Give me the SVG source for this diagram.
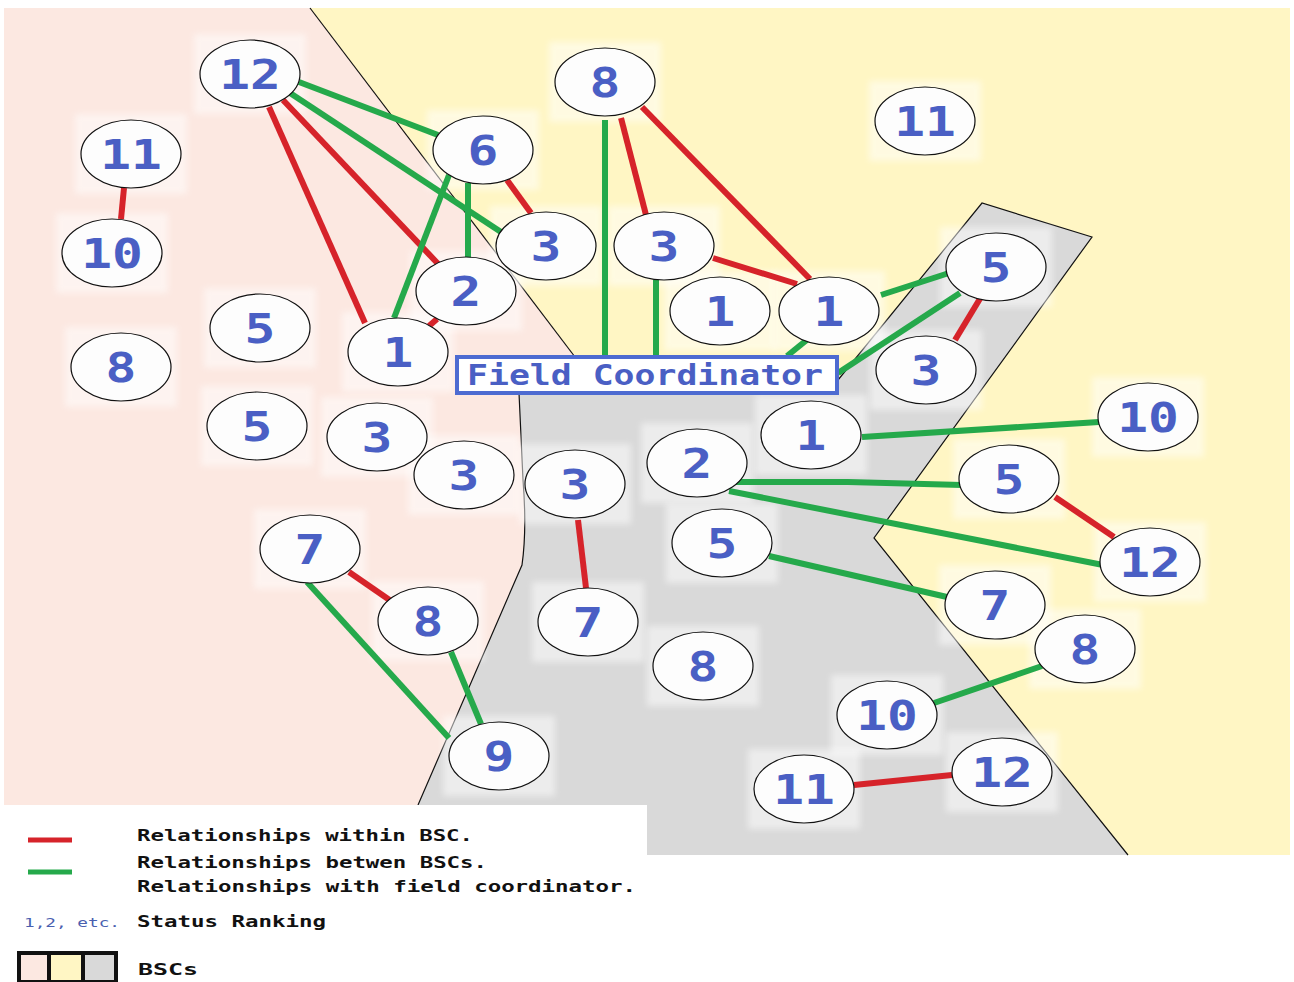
<svg xmlns="http://www.w3.org/2000/svg" width="1294" height="982" viewBox="0 0 1294 982">
  <style>
    .bd { fill: none; stroke: #111; stroke-width: 1.2; }
    .r { stroke: #d6232a; stroke-width: 6; fill: none; }
    .g { stroke: #25a94b; stroke-width: 6; fill: none; }
    .halo rect { fill: #ffffff; opacity: 0.5; filter: url(#soft); }
    .node ellipse { fill: #fdfdfd; stroke: #111; stroke-width: 1.2; }
    .node text { font-family: "DejaVu Sans Mono", "Liberation Mono", monospace; font-weight: bold; font-size: 40px; fill: #4a5fc4; text-anchor: middle; }
    .leg { font-family: "DejaVu Sans Mono", "Liberation Mono", monospace; font-weight: bold; font-size: 16px; fill: #111; }
  </style>
  <defs>
    <filter id="soft" x="-20%" y="-20%" width="140%" height="140%">
      <feGaussianBlur stdDeviation="3"/>
    </filter>
  </defs>

  <rect width="1294" height="982" fill="#ffffff"/>

  <!-- BSC areas -->
  <g id="areas">
    <rect x="4" y="8" width="1286" height="847" fill="#fff6c4"/>
    <path d="M4,8 L310,8 L575,357 L519,357 L519,393 L523,480 Q527,530 522,565 L418,805 L4,805 Z" fill="#fce8e1"/>
    <path d="M519,395 L838,395 L838,380 L982,203 L1092,237 L874,538 L1128,855 L647,855 L647,805 L418,805 L522,565 Q527,530 523,480 Z" fill="#d9d9d9"/>
    <path class="bd" d="M310,8 L575,357"/>
    <path class="bd" d="M519,393 L523,480 Q527,530 522,565 L418,805"/>
    <path class="bd" d="M838,380 L982,203 L1092,237 L874,538 L1128,855"/>
  </g>

  <!-- light patches behind the actors -->
  <g class="halo">
    <rect x="194" y="34" width="112" height="80"/>
    <rect x="75" y="114" width="112" height="80"/>
    <rect x="56" y="213" width="112" height="80"/>
    <rect x="204" y="288" width="112" height="80"/>
    <rect x="65" y="327" width="112" height="80"/>
    <rect x="342" y="312" width="112" height="80"/>
    <rect x="410" y="251" width="112" height="80"/>
    <rect x="427" y="110" width="112" height="80"/>
    <rect x="490" y="206" width="112" height="80"/>
    <rect x="201" y="386" width="112" height="80"/>
    <rect x="321" y="397" width="112" height="80"/>
    <rect x="408" y="435" width="112" height="80"/>
    <rect x="254" y="509" width="112" height="80"/>
    <rect x="372" y="581" width="112" height="80"/>
    <rect x="443" y="716" width="112" height="80"/>
    <rect x="549" y="42" width="112" height="80"/>
    <rect x="608" y="206" width="112" height="80"/>
    <rect x="664" y="271" width="112" height="80"/>
    <rect x="773" y="271" width="112" height="80"/>
    <rect x="869" y="81" width="112" height="80"/>
    <rect x="940" y="227" width="112" height="80"/>
    <rect x="870" y="330" width="112" height="80"/>
    <rect x="519" y="444" width="112" height="80"/>
    <rect x="532" y="582" width="112" height="80"/>
    <rect x="641" y="423" width="112" height="80"/>
    <rect x="755" y="395" width="112" height="80"/>
    <rect x="666" y="503" width="112" height="80"/>
    <rect x="647" y="626" width="112" height="80"/>
    <rect x="831" y="675" width="112" height="80"/>
    <rect x="748" y="749" width="112" height="80"/>
    <rect x="946" y="732" width="112" height="80"/>
    <rect x="1092" y="377" width="112" height="80"/>
    <rect x="953" y="439" width="112" height="80"/>
    <rect x="1094" y="522" width="112" height="80"/>
    <rect x="939" y="565" width="112" height="80"/>
    <rect x="1029" y="609" width="112" height="80"/>
  </g>

  <!-- legend panel -->
  <rect x="0" y="805" width="647" height="177" fill="#ffffff"/>

  <!-- connectors -->
  <g id="connectors">
    <line class="r" x1="269" y1="107" x2="365" y2="323"/>
    <line class="r" x1="283" y1="100" x2="442" y2="268"/>
    <line class="r" x1="124" y1="188" x2="121" y2="219"/>
    <line class="r" x1="507" y1="180" x2="531" y2="213"/>
    <line class="r" x1="437" y1="319" x2="429" y2="326"/>
    <line class="r" x1="621" y1="118" x2="646" y2="215"/>
    <line class="r" x1="642" y1="107" x2="810" y2="279"/>
    <line class="r" x1="713" y1="258" x2="797" y2="284"/>
    <line class="r" x1="981" y1="297" x2="955" y2="340"/>
    <line class="r" x1="1055" y1="497" x2="1114" y2="537"/>
    <line class="r" x1="349" y1="572" x2="391" y2="601"/>
    <line class="r" x1="578" y1="520" x2="586" y2="588"/>
    <line class="r" x1="854" y1="785" x2="952" y2="775"/>

    <line class="g" x1="299" y1="82" x2="438" y2="135"/>
    <line class="g" x1="290" y1="93" x2="501" y2="232"/>
    <line class="g" x1="449" y1="175" x2="394" y2="318"/>
    <line class="g" x1="468" y1="183" x2="468" y2="258"/>
    <line class="g" x1="605" y1="120" x2="605" y2="355"/>
    <line class="g" x1="656" y1="280" x2="656" y2="355"/>
    <line class="g" x1="808" y1="339" x2="787" y2="356"/>
    <line class="g" x1="881" y1="295" x2="949" y2="273"/>
    <line class="g" x1="960" y1="293" x2="838" y2="373"/>
    <line class="g" x1="862" y1="437" x2="1099" y2="422"/>
    <polyline class="g" points="733,482 848,482 962,485"/>
    <line class="g" x1="729" y1="491" x2="1103" y2="565"/>
    <line class="g" x1="769" y1="556" x2="947" y2="597"/>
    <line class="g" x1="934" y1="703" x2="1042" y2="666"/>
    <line class="g" x1="307" y1="582" x2="449" y2="738"/>
    <line class="g" x1="451" y1="652" x2="481" y2="724"/>
  </g>

  <!-- Field Coordinator -->
  <g id="field-coordinator">
    <rect x="457" y="357" width="380" height="36" fill="#ffffff" stroke="#4d6bd1" stroke-width="4"/>
    <text x="467" y="385" textLength="356" lengthAdjust="spacingAndGlyphs" font-family="DejaVu Sans Mono, Liberation Mono, monospace" font-weight="bold" font-size="28" fill="#4a5fc4">Field Coordinator</text>
  </g>

  <!-- actors, labelled with status ranking -->
  <g id="n12a" class="node" transform="translate(250,74)"><ellipse rx="50" ry="34"/><text y="14.5" transform="scale(1.28,1)">12</text></g>
  <g id="n11a" class="node" transform="translate(131,154)"><ellipse rx="50" ry="34"/><text y="14.5" transform="scale(1.28,1)">11</text></g>
  <g id="n10a" class="node" transform="translate(112,253)"><ellipse rx="50" ry="34"/><text y="14.5" transform="scale(1.28,1)">10</text></g>
  <g id="n5a" class="node" transform="translate(260,328)"><ellipse rx="50" ry="34"/><text y="14.5" transform="scale(1.28,1)">5</text></g>
  <g id="n8a" class="node" transform="translate(121,367)"><ellipse rx="50" ry="34"/><text y="14.5" transform="scale(1.28,1)">8</text></g>
  <g id="n1a" class="node" transform="translate(398,352)"><ellipse rx="50" ry="34"/><text y="14.5" transform="scale(1.28,1)">1</text></g>
  <g id="n2a" class="node" transform="translate(466,291)"><ellipse rx="50" ry="34"/><text y="14.5" transform="scale(1.28,1)">2</text></g>
  <g id="n6" class="node" transform="translate(483,150)"><ellipse rx="50" ry="34"/><text y="14.5" transform="scale(1.28,1)">6</text></g>
  <g id="n3a" class="node" transform="translate(546,246)"><ellipse rx="50" ry="34"/><text y="14.5" transform="scale(1.28,1)">3</text></g>
  <g id="n5b" class="node" transform="translate(257,426)"><ellipse rx="50" ry="34"/><text y="14.5" transform="scale(1.28,1)">5</text></g>
  <g id="n3b" class="node" transform="translate(377,437)"><ellipse rx="50" ry="34"/><text y="14.5" transform="scale(1.28,1)">3</text></g>
  <g id="n3c" class="node" transform="translate(464,475)"><ellipse rx="50" ry="34"/><text y="14.5" transform="scale(1.28,1)">3</text></g>
  <g id="n7a" class="node" transform="translate(310,549)"><ellipse rx="50" ry="34"/><text y="14.5" transform="scale(1.28,1)">7</text></g>
  <g id="n8b" class="node" transform="translate(428,621)"><ellipse rx="50" ry="34"/><text y="14.5" transform="scale(1.28,1)">8</text></g>
  <g id="n9" class="node" transform="translate(499,756)"><ellipse rx="50" ry="34"/><text y="14.5" transform="scale(1.28,1)">9</text></g>

  <g id="n8c" class="node" transform="translate(605,82)"><ellipse rx="50" ry="34"/><text y="14.5" transform="scale(1.28,1)">8</text></g>
  <g id="n3d" class="node" transform="translate(664,246)"><ellipse rx="50" ry="34"/><text y="14.5" transform="scale(1.28,1)">3</text></g>
  <g id="n1b" class="node" transform="translate(720,311)"><ellipse rx="50" ry="34"/><text y="14.5" transform="scale(1.28,1)">1</text></g>
  <g id="n1c" class="node" transform="translate(829,311)"><ellipse rx="50" ry="34"/><text y="14.5" transform="scale(1.28,1)">1</text></g>
  <g id="n11b" class="node" transform="translate(925,121)"><ellipse rx="50" ry="34"/><text y="14.5" transform="scale(1.28,1)">11</text></g>

  <g id="n5c" class="node" transform="translate(996,267)"><ellipse rx="50" ry="34"/><text y="14.5" transform="scale(1.28,1)">5</text></g>
  <g id="n3e" class="node" transform="translate(926,370)"><ellipse rx="50" ry="34"/><text y="14.5" transform="scale(1.28,1)">3</text></g>

  <g id="n3f" class="node" transform="translate(575,484)"><ellipse rx="50" ry="34"/><text y="14.5" transform="scale(1.28,1)">3</text></g>
  <g id="n7b" class="node" transform="translate(588,622)"><ellipse rx="50" ry="34"/><text y="14.5" transform="scale(1.28,1)">7</text></g>
  <g id="n2b" class="node" transform="translate(697,463)"><ellipse rx="50" ry="34"/><text y="14.5" transform="scale(1.28,1)">2</text></g>
  <g id="n1d" class="node" transform="translate(811,435)"><ellipse rx="50" ry="34"/><text y="14.5" transform="scale(1.28,1)">1</text></g>
  <g id="n5d" class="node" transform="translate(722,543)"><ellipse rx="50" ry="34"/><text y="14.5" transform="scale(1.28,1)">5</text></g>
  <g id="n8d" class="node" transform="translate(703,666)"><ellipse rx="50" ry="34"/><text y="14.5" transform="scale(1.28,1)">8</text></g>
  <g id="n10b" class="node" transform="translate(887,715)"><ellipse rx="50" ry="34"/><text y="14.5" transform="scale(1.28,1)">10</text></g>
  <g id="n11c" class="node" transform="translate(804,789)"><ellipse rx="50" ry="34"/><text y="14.5" transform="scale(1.28,1)">11</text></g>
  <g id="n12b" class="node" transform="translate(1002,772)"><ellipse rx="50" ry="34"/><text y="14.5" transform="scale(1.28,1)">12</text></g>

  <g id="n10c" class="node" transform="translate(1148,417)"><ellipse rx="50" ry="34"/><text y="14.5" transform="scale(1.28,1)">10</text></g>
  <g id="n5e" class="node" transform="translate(1009,479)"><ellipse rx="50" ry="34"/><text y="14.5" transform="scale(1.28,1)">5</text></g>
  <g id="n12c" class="node" transform="translate(1150,562)"><ellipse rx="50" ry="34"/><text y="14.5" transform="scale(1.28,1)">12</text></g>
  <g id="n7c" class="node" transform="translate(995,605)"><ellipse rx="50" ry="34"/><text y="14.5" transform="scale(1.28,1)">7</text></g>
  <g id="n8e" class="node" transform="translate(1085,649)"><ellipse rx="50" ry="34"/><text y="14.5" transform="scale(1.28,1)">8</text></g>

  <!-- legend -->
  <g id="legend">
    <line x1="28" y1="840" x2="72" y2="840" stroke="#d6232a" stroke-width="5"/>
    <text class="leg" x="137" y="841" textLength="336" lengthAdjust="spacingAndGlyphs">Relationships within BSC.</text>
    <line x1="28" y1="872" x2="72" y2="872" stroke="#25a94b" stroke-width="5"/>
    <text class="leg" x="137" y="868" textLength="350" lengthAdjust="spacingAndGlyphs">Relationships betwen BSCs.</text>
    <text class="leg" x="137" y="892" textLength="499" lengthAdjust="spacingAndGlyphs">Relationships with field coordinator.</text>
    <text x="24" y="927" textLength="96" lengthAdjust="spacingAndGlyphs" font-family="DejaVu Sans Mono, Liberation Mono, monospace" font-size="12" fill="#4a5fb0">1,2, etc.</text>
    <text class="leg" x="137" y="927" textLength="189" lengthAdjust="spacingAndGlyphs">Status Ranking</text>
    <rect x="17" y="951" width="101" height="31" fill="#111"/>
    <rect x="21" y="955" width="26" height="25" fill="#fce8e1"/>
    <rect x="51" y="955" width="30" height="25" fill="#fff6c4"/>
    <rect x="85" y="955" width="29" height="25" fill="#d9d9d9"/>
    <text class="leg" x="138" y="975" font-size="18" textLength="60" lengthAdjust="spacingAndGlyphs">BSCs</text>
  </g>
</svg>
